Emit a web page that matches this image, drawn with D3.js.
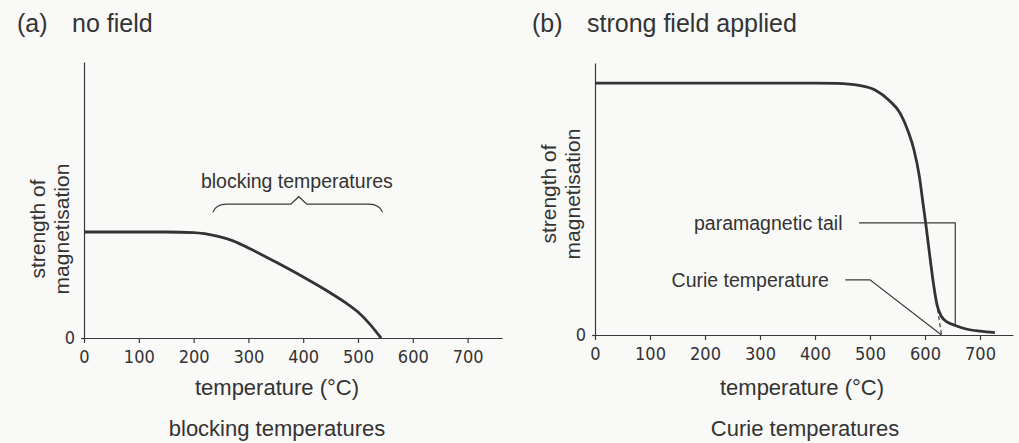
<!DOCTYPE html>
<html><head><meta charset="utf-8">
<script src="https://cdn.jsdelivr.net/npm/d3@7"></script>
<style>
html,body{margin:0;padding:0;background:#f9f9f7;}
svg{display:block;}
text{font-family:"Liberation Sans",Arial,Helvetica,sans-serif;fill:#333;}
.tick text{font-family:"Liberation Sans Narrow","Arial Narrow","DejaVu Sans Condensed","Liberation Sans",sans-serif;}
</style></head>
<body>
<svg id="c" width="1019" height="443"></svg>
<script>
// ---- data ----
const xTicks = [0,100,200,300,400,500,600,700];
const yTicks = [0];
// (a) no field: temperature (°C) vs relative magnetisation
const tempA = [0,100,150,200,220,245,272,300,350,400,450,475,500,520,542];
const magA  = [0.384,0.384,0.384,0.382,0.378,0.368,0.352,0.326,0.275,0.221,0.163,0.131,0.094,0.054,0];
// (b) strong field applied
const tempB = [0,100,200,300,400,440,480,510,535,555,570,580,590,596,602,610,616,622,630,640,655,675,700,727];
const magB  = [0.926,0.926,0.926,0.926,0.926,0.925,0.918,0.9,0.862,0.815,0.745,0.68,0.58,0.49,0.40,0.27,0.18,0.11,0.068,0.048,0.035,0.022,0.014,0.009];
// annotations
const braceRange = [235, 392, 545];   // blocking temperature range (°C)
const curieTemp = 630;
const tailTemp = 655;

const svg = d3.select("#c");
const ink = "#3a3a3a";

function panel(opt){
  const g = svg.append("g");
  const x = d3.scaleLinear().domain([0, opt.xMax]).range([opt.x0, opt.x1]);
  const y = d3.scaleLinear().domain([0, 1]).range([opt.y0, opt.y1]);
  const ax = g.append("g").attr("transform",`translate(0,${opt.y0})`)
    .call(d3.axisBottom(x).tickValues(xTicks).tickFormat(d3.format("d")).tickSize(5).tickSizeOuter(0).tickPadding(7));
  ax.selectAll("text").attr("font-size",18).attr("fill","#333");
  ax.selectAll("line,path").attr("stroke",ink).attr("stroke-width",1.2);
  const ay = g.append("g").attr("transform",`translate(${opt.x0},0)`)
    .call(d3.axisLeft(y).tickValues(yTicks).tickFormat(d3.format("d")).tickSize(3).tickSizeOuter(0).tickPadding(6));
  ay.selectAll("text").attr("font-size",18).attr("fill","#333");
  ay.selectAll("line,path").attr("stroke",ink).attr("stroke-width",1.2);
  // y label
  const cy = opt.labelY;
  g.append("text").attr("transform",`translate(${opt.x0-39},${cy}) rotate(-90)`)
    .attr("text-anchor","middle").attr("font-size",21).text("strength of");
  g.append("text").attr("transform",`translate(${opt.x0-15},${cy}) rotate(-90)`)
    .attr("text-anchor","middle").attr("font-size",21).text("magnetisation");
  // titles
  g.append("text").attr("x",opt.titleX).attr("y",32).attr("font-size",25).text(opt.tag);
  g.append("text").attr("x",opt.titleX+55).attr("y",32).attr("font-size",25).text(opt.title);
  // x labels
  g.append("text").attr("x",opt.labCx).attr("y",395).attr("text-anchor","middle").attr("font-size",22).text("temperature (°C)");
  g.append("text").attr("x",opt.labCx2).attr("y",436).attr("text-anchor","middle").attr("font-size",22).text(opt.sub);
  return {g,x,y};
}

// ---- panel (a) ----
const A = panel({x0:84,x1:84+0.548*763,xMax:763,y0:338,y1:62,labelY:229,titleX:17,tag:"(a)",title:"no field",labCx:277,labCx2:277,sub:"blocking temperatures"});
const lineA = d3.line().x((d,i)=>A.x(tempA[i])).y((d,i)=>A.y(magA[i])).curve(d3.curveMonotoneX);
A.g.append("path").attr("d",lineA(magA)).attr("fill","none").attr("stroke","#333").attr("stroke-width",2.8);
// brace
{
  const [b0,bm,b1] = braceRange;
  const yb = A.y(0.485), yend = A.y(0.455), ypk = A.y(0.512);
  const p = d3.path();
  p.moveTo(A.x(b0), yend);
  p.quadraticCurveTo(A.x(b0)+3, yb, A.x(b0)+14, yb);
  p.lineTo(A.x(bm)-8, yb);
  p.lineTo(A.x(bm), ypk);
  p.lineTo(A.x(bm)+8, yb);
  p.lineTo(A.x(b1)-14, yb);
  p.quadraticCurveTo(A.x(b1)-3, yb, A.x(b1), yend);
  A.g.append("path").attr("d",p.toString()).attr("fill","none").attr("stroke",ink).attr("stroke-width",1.2);
  A.g.append("text").attr("x",A.x(bm)-2).attr("y",A.y(0.545)).attr("text-anchor","middle").attr("font-size",19.5).text("blocking temperatures");
}

// ---- panel (b) ----
const B = panel({x0:595,x1:595+0.55*760,xMax:760,y0:335,y1:63,labelY:194,titleX:532,tag:"(b)",title:"strong field applied",labCx:802,labCx2:805,sub:"Curie temperatures"});
const lineB = d3.line().x((d,i)=>B.x(tempB[i])).y((d,i)=>B.y(magB[i])).curve(d3.curveMonotoneX);
B.g.append("path").attr("d",lineB(magB)).attr("fill","none").attr("stroke","#333").attr("stroke-width",2.8);
// dashed extrapolation to Curie temperature
B.g.append("line").attr("x1",B.x(621)).attr("y1",B.y(0.12)).attr("x2",B.x(curieTemp)).attr("y2",B.y(0))
  .attr("stroke",ink).attr("stroke-width",1.2).attr("stroke-dasharray","4,3");
// paramagnetic tail leader
B.g.append("path").attr("d",`M${B.x(480)},${B.y(0.412)}H${B.x(tailTemp)}V${B.y(0.033)}`)
  .attr("fill","none").attr("stroke",ink).attr("stroke-width",1.2);
B.g.append("text").attr("x",B.x(450)).attr("y",B.y(0.412)+7).attr("text-anchor","end").attr("font-size",19.5).text("paramagnetic tail");
// Curie temperature leader
B.g.append("path").attr("d",`M${B.x(455)},${B.y(0.203)}H${B.x(500)}L${B.x(curieTemp)},${B.y(0)}`)
  .attr("fill","none").attr("stroke",ink).attr("stroke-width",1.2);
B.g.append("text").attr("x",B.x(425)).attr("y",B.y(0.203)+7).attr("text-anchor","end").attr("font-size",19.5).text("Curie temperature");
</script>
</body></html>
